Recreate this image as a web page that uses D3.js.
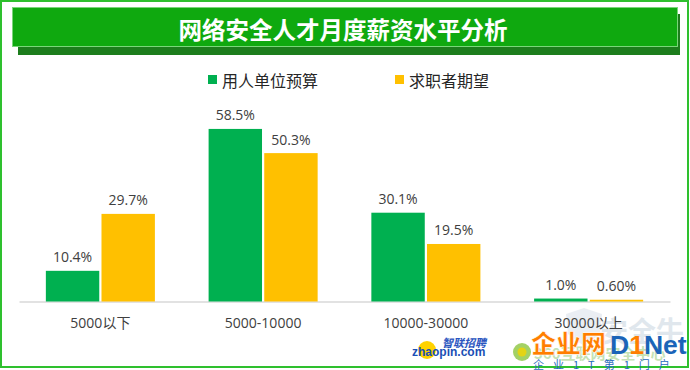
<!DOCTYPE html>
<html><head><meta charset="utf-8">
<script src="https://cdn.jsdelivr.net/npm/d3@7"></script>
<style>body{margin:0;background:#fff}svg{display:block}</style>
</head><body><svg id="c" width="690" height="370"></svg>
<script>
const title = "网络安全人才月度薪资水平分析";
const categories = ["5000以下", "5000-10000", "10000-30000", "30000以上"];
const seriesNames = ["用人单位预算", "求职者期望"];
const budget = [10.4, 58.5, 30.1, 1.0];
const expectation = [29.7, 50.3, 19.5, 0.6];
const budgetLabels = ["10.4%", "58.5%", "30.1%", "1.0%"];
const expectationLabels = ["29.7%", "50.3%", "19.5%", "0.60%"];

const colors = ["#00b050", "#ffc000"];
const font = "'Open Sans','Noto Sans CJK SC',sans-serif";
const cjk = "'Noto Sans CJK SC','Open Sans',sans-serif";

const svg = d3.select("#c");

// outer frame
svg.append("rect").attr("x", 1).attr("y", 1).attr("width", 687).attr("height", 366)
  .attr("fill", "#fff").attr("stroke", "#2ec02e").attr("stroke-width", 2);

// title banner with shadow
svg.append("rect").attr("x", 18).attr("y", 14).attr("width", 662).attr("height", 41).attr("fill", "#1d7d1d");
svg.append("rect").attr("x", 12.5).attr("y", 7.5).attr("width", 665).attr("height", 39)
  .attr("fill", "#0fa90f").attr("stroke", "#7ad67a").attr("stroke-width", 1);
svg.append("text").attr("x", 343).attr("y", 28.5).attr("text-anchor", "middle")
  .attr("dominant-baseline", "central")
  .style("font-family", cjk).style("font-weight", 700).style("font-size", "23.5px")
  .attr("fill", "#fff").text(title);

// scales
const x0 = d3.scaleBand().domain(categories).range([19, 670]).paddingInner(0.33).paddingOuter(0.165);
const x1 = d3.scaleBand().domain([0, 1]).range([0, x0.bandwidth()]).paddingInner(0.04);
const y = d3.scaleLinear().domain([0, 60]).range([301.5, 124.5]);

// watermarks (behind chart)
const wm = svg.append("g");
wm.append("text").attr("x", 600).attr("y", 342).style("font-family", cjk).style("font-weight", 700)
  .style("font-size", "28px").attr("fill", "#a9bccc").attr("opacity", 0.35).text("安全牛");
wm.append("path").attr("d", "M566,314 L584,308 L602,314 L600,334 L584,346 L568,334 Z")
  .attr("fill", "#b8c8d8").attr("opacity", 0.3);

// axis
const axis = svg.append("g").attr("transform", `translate(0,${y(0)})`)
  .call(d3.axisBottom(x0).tickSize(0).tickSizeOuter(0));
axis.select(".domain").attr("stroke", "#d9d9d9").attr("stroke-width", 1.3);
axis.selectAll("text").attr("dy", null).attr("y", 26)
  .style("font-family", font).style("font-size", "14px").attr("fill", "#404040");

// bars
const series = [budget, expectation];
const labels = [budgetLabels, expectationLabels];
const groups = svg.append("g").selectAll("g").data(categories).join("g")
  .attr("transform", d => `translate(${x0(d)},0)`);
groups.selectAll("rect").data((d, i) => series.map((s, k) => ({k, v: s[i]}))).join("rect")
  .attr("x", d => x1(d.k)).attr("width", x1.bandwidth())
  .attr("y", d => y(d.v)).attr("height", d => y(0) - y(d.v))
  .attr("fill", d => colors[d.k]);
groups.selectAll("text").data((d, i) => series.map((s, k) => ({k, v: s[i], t: labels[k][i]}))).join("text")
  .attr("x", d => x1(d.k) + x1.bandwidth() / 2).attr("y", d => y(d.v) - 8.5)
  .attr("text-anchor", "middle").style("font-family", font).style("font-size", "14px")
  .attr("fill", "#404040").text(d => d.t);

// legend
const legendX = [208, 395];
const lg = svg.append("g").selectAll("g").data(seriesNames).join("g")
  .attr("transform", (d, i) => `translate(${legendX[i]},75)`);
lg.append("rect").attr("width", 9).attr("height", 9).attr("fill", (d, i) => colors[i]);
lg.append("text").attr("x", 14).attr("y", 5).attr("dominant-baseline", "central")
  .style("font-family", cjk).style("font-size", "16px").attr("fill", "#262626").text(d => d);

// foreground watermarks
const fg = svg.append("g");
fg.append("circle").attr("cx", 427).attr("cy", 350).attr("r", 9).attr("fill", "#ffd200");
fg.append("text").attr("x", 442).attr("y", 347).style("font-family", cjk).style("font-weight", 700)
  .style("font-style", "italic").style("font-size", "11px").attr("fill", "#2a55c0").text("智联招聘");
fg.append("text").attr("x", 412).attr("y", 355.5).style("font-family", "'Liberation Sans',sans-serif").style("font-weight", 700)
  .style("font-size", "12px").attr("fill", "#1a4fb5").text("zhaopin.com");
fg.append("circle").attr("cx", 522).attr("cy", 352).attr("r", 9).attr("fill", "#8cc63f").attr("opacity", 0.8);
fg.append("circle").attr("cx", 522).attr("cy", 352).attr("r", 4.5).attr("fill", "#f2d400").attr("opacity", 0.8);
fg.append("text").attr("x", 534).attr("y", 359).style("font-family", cjk).style("font-weight", 700)
  .style("font-size", "15px").attr("fill", "#7fbf5a").attr("opacity", 0.45).text("360互联网安全中心");
fg.append("text").attr("x", 531).attr("y", 353).style("font-family", cjk).style("font-weight", 900)
  .style("font-size", "25px").attr("fill", "#ff7e00").attr("stroke", "#fff").attr("stroke-width", 0.6).text("企业网");
const dn = fg.append("text").attr("x", 610).attr("y", 354).style("font-family", "'Liberation Sans',sans-serif")
  .style("font-weight", 700).style("font-size", "26.5px");
dn.append("tspan").attr("fill", "#1b64b8").text("D");
dn.append("tspan").attr("fill", "#ff7e00").text("1");
dn.append("tspan").attr("fill", "#1b64b8").text("Net");
fg.append("text").attr("x", 533).attr("y", 369).style("font-family", cjk)
  .style("font-size", "11px").style("letter-spacing", "9px").attr("fill", "#2a6cc0").text("企业1T第1门户");
</script></body></html>
